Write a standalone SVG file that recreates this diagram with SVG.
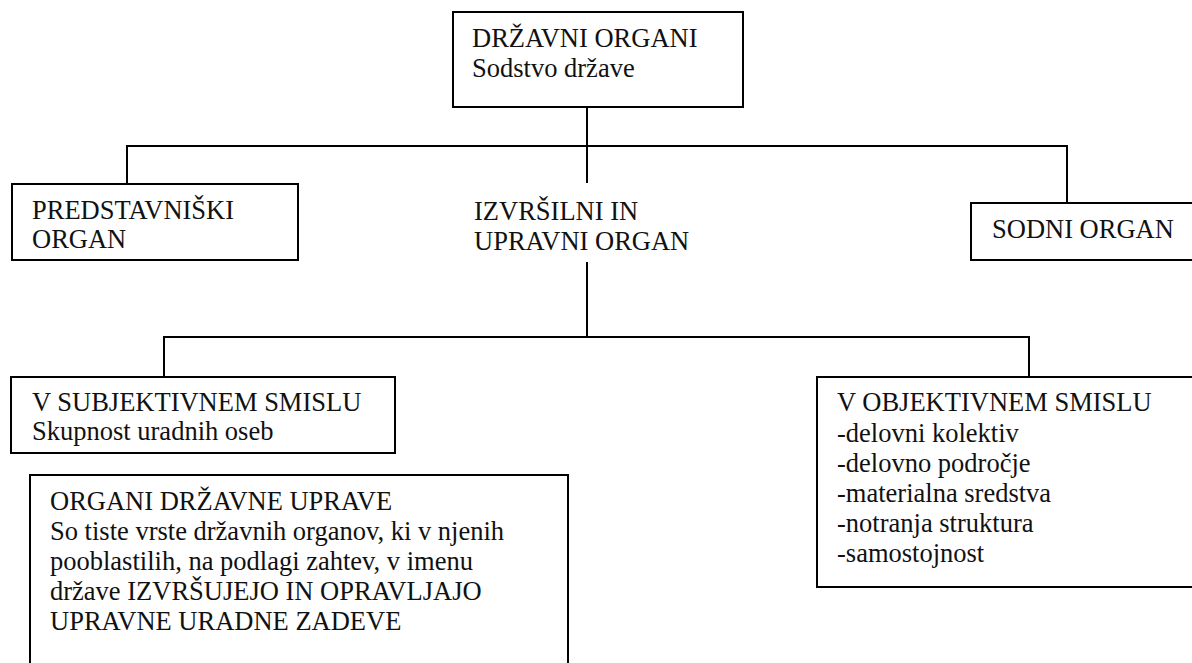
<svg xmlns="http://www.w3.org/2000/svg" width="1192" height="663" viewBox="0 0 1192 663">
<style>
.box{fill:#fff;stroke:#000;stroke-width:2}
.ln{fill:none;stroke:#000;stroke-width:2}
text{font-family:"Liberation Serif","Times New Roman",serif;font-size:26.5px;fill:#111}
</style>
<rect width="1192" height="663" fill="#fff"/>
<g id="connectors">
<path class="ln" d="M587 107V183"/>
<path class="ln" d="M127 184V146H1067V203"/>
<path class="ln" d="M587 262V337"/>
<path class="ln" d="M164 377V337H1029V377"/>
</g>
<g id="n-drzavni">
<rect class="box" x="453" y="12" width="290" height="95"/>
<text x="472" y="47">DRŽAVNI ORGANI</text>
<text x="472" y="77">Sodstvo države</text>
</g>
<g id="n-predstavniski">
<rect class="box" x="12" y="184" width="286" height="76"/>
<text x="32" y="219">PREDSTAVNIŠKI</text>
<text x="32" y="248">ORGAN</text>
</g>
<g id="n-izvrsilni">
<text x="474" y="220">IZVRŠILNI IN</text>
<text x="474" y="250">UPRAVNI ORGAN</text>
</g>
<g id="n-sodni">
<rect class="box" x="971" y="203" width="222" height="57"/>
<text x="992" y="238">SODNI ORGAN</text>
</g>
<g id="n-subjektivni">
<rect class="box" x="11" y="377" width="384" height="76"/>
<text x="32" y="411">V SUBJEKTIVNEM SMISLU</text>
<text x="32" y="440">Skupnost uradnih oseb</text>
</g>
<g id="n-objektivni">
<rect class="box" x="817" y="377" width="380" height="210"/>
<text x="837" y="411">V OBJEKTIVNEM SMISLU</text>
<text x="837" y="442">-delovni kolektiv</text>
<text x="837" y="472">-delovno področje</text>
<text x="837" y="502">-materialna sredstva</text>
<text x="837" y="532">-notranja struktura</text>
<text x="837" y="562">-samostojnost</text>
</g>
<g id="n-organi-uprave">
<rect class="box" x="30" y="475" width="538" height="200"/>
<text x="50" y="510">ORGANI DRŽAVNE UPRAVE</text>
<text x="50" y="540">So tiste vrste državnih organov, ki v njenih</text>
<text x="50" y="570">pooblastilih, na podlagi zahtev, v imenu</text>
<text x="50" y="600">države IZVRŠUJEJO IN OPRAVLJAJO</text>
<text x="50" y="630">UPRAVNE URADNE ZADEVE</text>
</g>
</svg>
